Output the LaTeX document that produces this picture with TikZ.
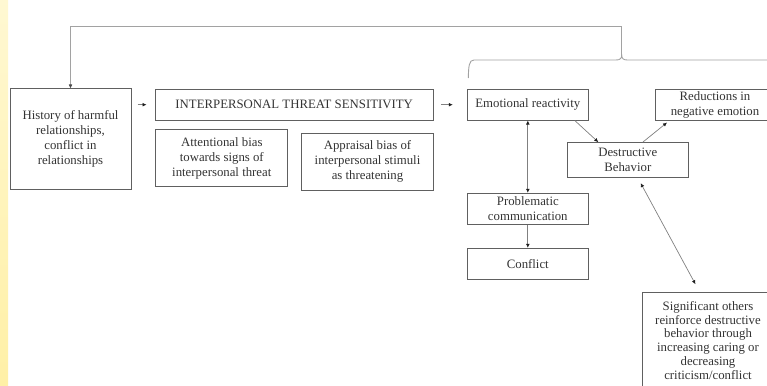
\documentclass[tikz,border=0pt]{standalone}
\usepackage{fontspec}
\setmainfont{Liberation Serif}
\usetikzlibrary{arrows.meta}
\definecolor{boxc}{HTML}{606060}
\definecolor{txt}{HTML}{333333}
\definecolor{linkc}{HTML}{808080}
\definecolor{headc}{HTML}{1E1E1E}
\definecolor{fbc}{HTML}{A2A2A2}
\definecolor{bandtop}{HTML}{FFF8D2}
\definecolor{bandbot}{HTML}{FFF0A6}
\begin{document}
\begin{tikzpicture}[x=1pt,y=-1pt,
  box/.style={draw=boxc, line width=1pt, align=center, inner sep=0pt,
    text=txt, font=\fontsize{12.8}{15}\selectfont},
  tip/.tip={Latex[length=4pt,width=3.8pt,color=headc]},
  arr/.style={draw=linkc, line width=0.7pt, -tip},
  biarr/.style={draw=linkc, line width=0.7pt, tip-tip},
  fb/.style={draw=fbc, line width=0.9pt}]
\useasboundingbox (0,0) rectangle (767,385);
% left margin band
\shade[top color=bandtop, bottom color=bandbot] (0,0) rectangle (8,385);

% left column and threat sensitivity block
\node[box, minimum width=121, minimum height=100] (hist) at (70.5,139)
  {History of harmful\\relationships,\\conflict in\\relationships};
\node[box, minimum width=278.3, minimum height=30.7] (its) at (294.2,104.7)
  {INTERPERSONAL THREAT SENSITIVITY};
\node[box, minimum width=131.7, minimum height=56.7] (att) at (221.8,158.3)
  {Attentional bias\\towards signs of\\interpersonal threat};
\node[box, minimum width=131.7, minimum height=56.7] (app) at (367.5,161.7)
  {Appraisal bias of\\interpersonal stimuli\\as threatening};

% reaction cycle
\node[box, minimum width=121, minimum height=30.7] (emo) at (527.8,104.7)
  {Emotional reactivity};
\node[box, minimum width=120, minimum height=30.7] (red) at (715,104.7)
  {Reductions in\\negative emotion};
\node[box, minimum width=121, minimum height=34.7] (dest) at (627.8,160)
  {Destructive\\Behavior};
\node[box, minimum width=121, minimum height=30.7] (prob) at (527.8,208.7)
  {Problematic\\communication};
\node[box, minimum width=121, minimum height=30.7] (conf) at (527.8,263.7)
  {Conflict};
\node[box, anchor=north, minimum width=130.6, font=\fontsize{12.8}{13.8}\selectfont]
  (sig) at (708,291.7)
  {\rule{0pt}{18pt}Significant others\\reinforce destructive\\behavior through\\increasing caring or\\decreasing\\criticism/conflict\rule[-30pt]{0pt}{30pt}};

% forward arrows between blocks
\draw[arr, shorten <=6pt, shorten >=8pt] (hist.east |- its.west) -- (its.west);
\draw[arr, shorten <=7pt, shorten >=14pt] (its.east) -- (emo.west);

% links inside the cycle
\draw[biarr] (emo.south) -- (prob.north);
\draw[arr] (prob.south) -- (conf.north);
\draw[arr] ([xshift=47pt]emo.south) -- ([xshift=-29.5pt]dest.north);
\draw[arr] ([xshift=15pt]dest.north) -- ([xshift=-48pt,yshift=-2pt]red.south);
\draw[biarr, shorten <=6pt, shorten >=8.5pt] ([xshift=10pt]dest.south) -- ([xshift=-8.5pt]sig.north);

% brace over the cycle and the feedback loop
\coordinate (tip) at (621.7,55);
\draw[fb] (468.3,78) .. controls (468.6,66) and (469,60) .. (474,60)
  -- (616,60) .. controls (620,60) and (621.7,58.5) .. (tip)
  .. controls (621.7,58.5) and (623.4,60) .. (627.4,60) -- (770,60);
\draw[fb, -{Latex[length=4pt,width=3.8pt,color=headc!80]}] (tip) -- (621.7,26.7) -| (hist.north);
\end{tikzpicture}
\end{document}
